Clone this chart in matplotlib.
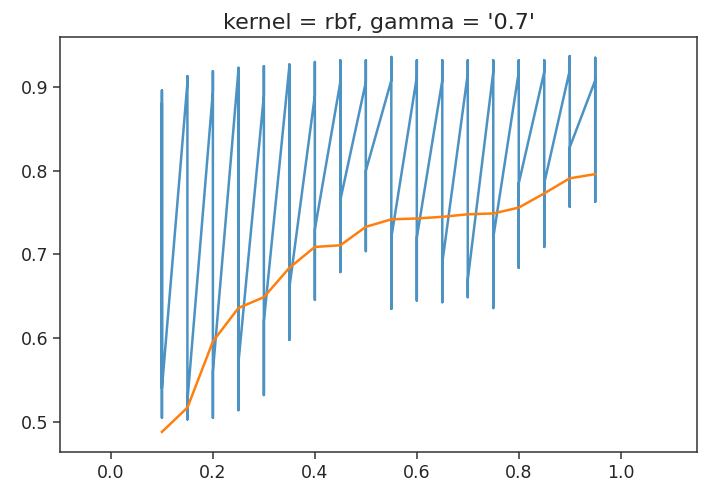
import numpy as np
import matplotlib.pyplot as plt

# train sizes tried
sizes = [0.1, 0.15, 0.2, 0.25, 0.3, 0.35, 0.4, 0.45, 0.5,
         0.55, 0.6, 0.65, 0.7, 0.75, 0.8, 0.85, 0.9, 0.95]

# per-fold scores for every size
fold_scores = [
    [0.880, 0.700, 0.896, 0.620, 0.505, 0.780, 0.600, 0.840, 0.560, 0.540],
    [0.905, 0.913, 0.650, 0.800, 0.503, 0.720, 0.860, 0.580, 0.760, 0.525],
    [0.895, 0.919, 0.700, 0.505, 0.830, 0.640, 0.890, 0.600, 0.750, 0.560],
    [0.920, 0.850, 0.514, 0.760, 0.923, 0.620, 0.880, 0.700, 0.800, 0.570],
    [0.890, 0.925, 0.700, 0.532, 0.860, 0.650, 0.900, 0.760, 0.820, 0.620],
    [0.925, 0.800, 0.598, 0.870, 0.927, 0.700, 0.890, 0.750, 0.840, 0.660],
    [0.890, 0.930, 0.780, 0.646, 0.880, 0.700, 0.910, 0.820, 0.760, 0.730],
    [0.906, 0.860, 0.679, 0.932, 0.800, 0.720, 0.900, 0.840, 0.880, 0.765],
    [0.906, 0.932, 0.760, 0.704, 0.880, 0.830, 0.910, 0.740, 0.860, 0.800],
    [0.908, 0.936, 0.700, 0.635, 0.880, 0.780, 0.900, 0.680, 0.840, 0.720],
    [0.912, 0.932, 0.760, 0.645, 0.880, 0.700, 0.900, 0.820, 0.780, 0.720],
    [0.908, 0.932, 0.780, 0.643, 0.880, 0.720, 0.900, 0.760, 0.840, 0.690],
    [0.916, 0.932, 0.700, 0.649, 0.880, 0.760, 0.900, 0.820, 0.740, 0.670],
    [0.918, 0.932, 0.760, 0.636, 0.880, 0.700, 0.900, 0.800, 0.840, 0.720],
    [0.918, 0.932, 0.780, 0.684, 0.880, 0.760, 0.900, 0.820, 0.860, 0.785],
    [0.918, 0.932, 0.800, 0.709, 0.880, 0.760, 0.900, 0.830, 0.860, 0.785],
    [0.920, 0.937, 0.820, 0.757, 0.880, 0.800, 0.910, 0.860, 0.780, 0.828],
    [0.908, 0.935, 0.840, 0.763, 0.880, 0.800, 0.920, 0.860, 0.830, 0.910],
]

# second curve
mean_scores = [0.488, 0.517, 0.596, 0.636, 0.649, 0.684, 0.709, 0.711, 0.733,
               0.742, 0.743, 0.745, 0.748, 0.749, 0.756, 0.773, 0.791, 0.796]

plt.rcParams['font.size'] = 12

fig = plt.figure(figsize=(7.08, 4.93), dpi=100)
ax = fig.add_axes([0.0847, 0.0832, 0.9, 0.842])

n_folds = len(fold_scores[0])
x_rep = np.repeat(sizes, n_folds)
ax.plot(x_rep, np.ravel(fold_scores), color='tab:blue', lw=1.8, alpha=0.8)
ax.plot(sizes, mean_scores, color='tab:orange', lw=1.8)

ax.set_xlim(-0.1, 1.15)
ax.set_ylim(0.464, 0.960)
ax.set_xticks([0.0, 0.2, 0.4, 0.6, 0.8, 1.0])
ax.set_yticks([0.5, 0.6, 0.7, 0.8, 0.9])
ax.tick_params(labelsize=12.5, length=5, width=1.1, colors='#333333', labelcolor='#262626')
for s in ax.spines.values():
    s.set_linewidth(1.1)
    s.set_color('#333333')
ax.set_title("kernel = rbf, gamma = '0.7'", fontsize=16, color='#262626')

fig.savefig('out.png')
